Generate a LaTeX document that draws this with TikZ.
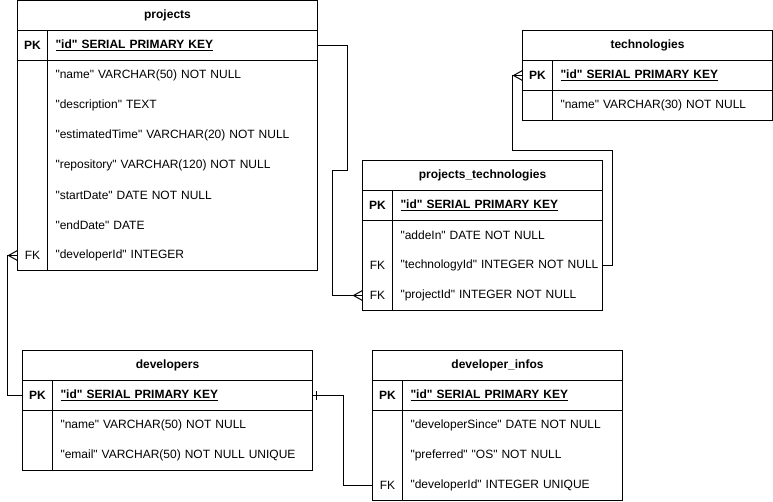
\documentclass[tikz,border=0pt]{standalone}
\usepackage{fontspec}
\setmainfont{Liberation Sans}[Ligatures=TeXOff]
\tikzset{
  every node/.style={font=\fontsize{12}{14}\selectfont, outer sep=0pt, inner sep=0pt, text=black},
  titlebox/.style={draw, rectangle, anchor=north west, minimum height=30pt, font=\fontsize{12}{14}\selectfont\bfseries},
  framebox/.style={draw, rectangle, anchor=north west},
  kc/.style={minimum width=30pt, minimum height=30pt, anchor=north west},
  vc/.style={text width=#1, inner xsep=8pt, minimum height=30pt, anchor=north west, align=left},
  crow/.pic={\draw (-9,0) -- (0,-5) (-9,0) -- (0,5);},
}
\newcommand{\ertable}[6]{%
  \node[titlebox, minimum width=#4pt] (#1) at (#2,#3) {#5};
  \node[framebox, minimum width=#4pt, minimum height=30pt] (#1-pkrow) at (#1.south west) {};
  \node[framebox, minimum width=#4pt, minimum height=#6*30pt] (#1-body) at (#1-pkrow.south west) {};
  \draw ([xshift=30pt]#1-pkrow.north west) -- ([xshift=30pt]#1-body.south west);
}
\begin{document}
\begin{tikzpicture}[x=1pt, y=-1pt, line width=1pt]
\useasboundingbox (0,0) rectangle (773,502);
\begin{scope}[shift={(0.5,0.5)}]
% projects
\ertable{p}{17}{0}{300}{projects}{7}
\node[kc] (p-pk-k) at (17,30) {\textbf{PK}};
\node[vc=254pt] (p-pk-v) at (47,30) {\textbf{\underline{"id" SERIAL PRIMARY KEY}}};
\node[vc=254pt] (p-r1) at (47,60) {"name" VARCHAR(50) NOT NULL};
\node[vc=254pt] (p-r2) at (47,90) {"description" TEXT};
\node[vc=254pt] (p-r3) at (47,120) {"estimatedTime" VARCHAR(20) NOT NULL};
\node[vc=254pt] (p-r4) at (47,150) {"repository" VARCHAR(120) NOT NULL};
\node[vc=254pt] (p-r5) at (47,180) {"startDate" DATE NOT NULL};
\node[vc=254pt] (p-r6) at (47,210) {"endDate" DATE};
\node[kc] (p-fk-k) at (17,240) {FK};
\node[vc=254pt] (p-fk-v) at (47,240) {"developerId" INTEGER};
% technologies
\ertable{t}{522}{30}{250}{technologies}{1}
\node[kc] (t-pk-k) at (522,60) {\textbf{PK}};
\node[vc=204pt] (t-pk-v) at (552,60) {\textbf{\underline{"id" SERIAL PRIMARY KEY}}};
\node[vc=204pt] (t-r1) at (552,90) {"name" VARCHAR(30) NOT NULL};
% projects_technologies
\ertable{pt}{362}{160}{240}{projects\_technologies}{3}
\node[kc] (pt-pk-k) at (362,190) {\textbf{PK}};
\node[vc=194pt] (pt-pk-v) at (392,190) {\textbf{\underline{"id" SERIAL PRIMARY KEY}}};
\node[vc=194pt] (pt-r1) at (392,220) {"addeIn" DATE NOT NULL};
\node[kc] (pt-fk1-k) at (362,250) {FK};
\node[vc=194pt] (pt-fk1-v) at (392,250) {\mbox{"technologyId" INTEGER NOT NULL}};
\node[kc] (pt-fk2-k) at (362,280) {FK};
\node[vc=194pt] (pt-fk2-v) at (392,280) {"projectId" INTEGER NOT NULL};
% developers
\ertable{d}{22}{350}{290}{developers}{2}
\node[kc] (d-pk-k) at (22,380) {\textbf{PK}};
\node[vc=244pt] (d-pk-v) at (52,380) {\textbf{\underline{"id" SERIAL PRIMARY KEY}}};
\node[vc=244pt] (d-r1) at (52,410) {"name" VARCHAR(50) NOT NULL};
\node[vc=244pt] (d-r2) at (52,440) {"email" VARCHAR(50) NOT NULL UNIQUE};
% developer_infos
\ertable{di}{372}{350}{250}{developer\_infos}{3}
\node[kc] (di-pk-k) at (372,380) {\textbf{PK}};
\node[vc=204pt] (di-pk-v) at (402,380) {\textbf{\underline{"id" SERIAL PRIMARY KEY}}};
\node[vc=204pt] (di-r1) at (402,410) {"developerSince" DATE NOT NULL};
\node[vc=204pt] (di-r2) at (402,440) {"preferred" "OS" NOT NULL};
\node[kc] (di-fk-k) at (372,470) {FK};
\node[vc=204pt] (di-fk-v) at (402,470) {"developerId" INTEGER UNIQUE};
% connectors
\draw (p-pk-v.east) -- ++(30,0) -- ++(0,125) -- ++(-15,0) |- (pt-fk2-k.west) pic{crow};
\draw (pt-fk1-v.east) -- ++(10,0) -- ++(0,-115) -| ([xshift=-10pt]t-pk-k.west) -- (t-pk-k.west) pic{crow};
\draw (d-pk-k.west) -- ++(-15,0) |- (p-fk-k.west) pic{crow};
\draw (d-pk-v.east) -- ++(31,0) |- (di-fk-k.west);
\draw ([xshift=4pt]d-pk-v.east) ++(0,-4.5) -- ++(0,9);
\end{scope}
\end{tikzpicture}
\end{document}
